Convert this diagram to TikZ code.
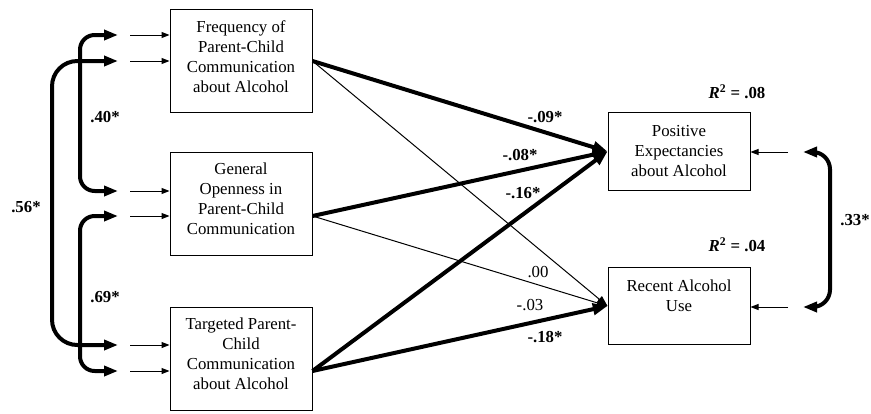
\documentclass[tikz,border=0pt]{standalone}
\usepackage{fontspec}
\setmainfont{Liberation Serif}
\usetikzlibrary{arrows.meta}

\tikzstyle{block}=[shape=rectangle,draw,line width=0.75pt,minimum width=106.5pt,minimum height=77.25pt,inner sep=0pt,align=center,font=\fontsize{12.6}{15}\selectfont,text height=49.5pt,text depth=3pt]
\tikzstyle{outcome}=[shape=rectangle,draw,line width=0.75pt,minimum width=106.5pt,minimum height=58pt,inner sep=0pt,align=center,font=\fontsize{12.6}{15}\selectfont]
\tikzstyle{coef}=[inner sep=0pt,font=\fontsize{12.6}{15}\selectfont\bfseries]
\tikzstyle{coefns}=[inner sep=0pt,font=\fontsize{12.6}{15}\selectfont]
\tikzstyle{feed}=[-{Triangle[length=6pt,width=4.5pt]},line width=0.75pt]
\tikzstyle{weakpath}=[-{Triangle[length=8pt,width=6pt]},line width=0.75pt]
\tikzstyle{strongpath}=[-{Triangle[length=11pt,width=8.5pt]},line width=3pt]
\tikzstyle{corr}=[{Triangle[length=10.5pt,width=7.5pt]}-{Triangle[length=10.5pt,width=7.5pt]},line width=3pt]

\begin{document}
\begin{tikzpicture}[x=0.75pt,y=-0.75pt]
\useasboundingbox (0,0) rectangle (871,414);
% predictors
\node[block] (freq) at (241,61) {Frequency of\\Parent-Child\\Communication\\about Alcohol};
\node[block] (open) at (241,203.5) {General\\Openness in\\Parent-Child\\Communication};
\node[block] (targ) at (241,358.5) {Targeted Parent-\\Child\\Communication\\about Alcohol};
% outcomes
\node[outcome] (pos) at (679,151.5) {Positive\\Expectancies\\about Alcohol};
\node[outcome] (use) at (679,306) {Recent Alcohol\\Use\\~};
% exogenous inputs
\foreach \y/\blk [count=\i] in {35/freq,61/freq,191/open,216/open,345/targ,371/targ}{
  \coordinate (s\i) at (130,\y);
  \coordinate (t\i) at (118,\y);
  \draw[feed] (s\i) -- (\blk.west |- s\i);
}
\draw[corr,rounded corners=11pt] (t1) -| (80,113) |- (t3);
\draw[corr,rounded corners=19pt] (t2) -| (52,200) |- (t5);
\draw[corr,rounded corners=11pt] (t4) -| (80,290) |- (t6);
\node[coef] (k1) at (105,117) {.40*};
\node[coef] (k2) at (26,207) {.56*};
\node[coef] (k3) at (105,297) {.69*};
% residuals
\coordinate (r1) at (788,152);
\coordinate (r2) at (788,307);
\coordinate (q1) at (803,152);
\coordinate (q2) at (803,307);
\draw[feed] (r1) -- (pos.east |- r1);
\draw[feed] (r2) -- (use.east |- r2);
\draw[corr,rounded corners=13pt] (q1) -| (830,230) |- (q2);
\node[coef] (k4) at (855,220) {.33*};
% paths
\draw[weakpath] (freq.east) -- (use.west);
\draw[weakpath] (open.east |- s4) -- (use.west);
\draw[strongpath] (freq.east) -- (pos.west);
\draw[strongpath] (open.east |- s4) -- (pos.west);
\draw[strongpath] (targ.east |- s6) -- (pos.west);
\draw[strongpath] (targ.east |- s6) -- (use.west);
\node[coef] (c1) at (545,117) {-.09*};
\node[coef] (c2) at (520,155) {-.08*};
\node[coef] (c3) at (523,193) {-.16*};
\node[coefns] (c4) at (538,272) {.00};
\node[coefns] (c5) at (530,305) {-.03};
\node[coef] (c6) at (545,337) {-.18*};
\node[coef] (rsqpos) at (737,92) {\textit{R}\textsuperscript{2} = .08};
\node[coef] (rsquse) at (737,245) {\textit{R}\textsuperscript{2} = .04};
\end{tikzpicture}
\end{document}
